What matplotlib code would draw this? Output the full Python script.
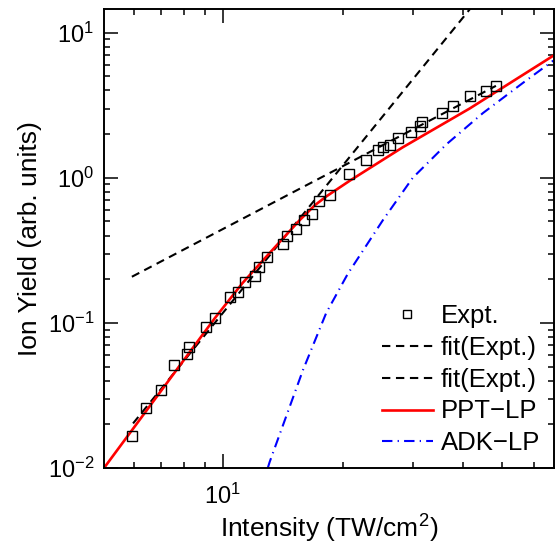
import numpy as np
import matplotlib.pyplot as plt
from matplotlib.ticker import LogLocator, NullFormatter, LogFormatterMathtext

plt.rcParams['font.family'] = ['Liberation Sans', 'DejaVu Sans']
plt.rcParams['mathtext.fontset'] = 'custom'
plt.rcParams['mathtext.rm'] = 'Liberation Sans'
plt.rcParams['mathtext.it'] = 'Liberation Sans:italic'

# ---------------------------------------------------------
# Data
# ---------------------------------------------------------
# experimental points (intensity in TW/cm^2, ion yield)
expt_x = [5.92, 6.44, 6.99, 7.55, 8.14, 8.24, 9.10, 9.57, 10.45, 10.92,
          11.39, 12.07, 12.33, 12.91, 14.16, 14.49, 15.22, 15.96, 16.75,
          17.40, 18.51, 20.70, 22.87, 24.50, 25.20, 26.20, 27.40, 29.60,
          31.10, 31.50, 35.30, 37.80, 41.50, 45.60, 48.30]
expt_y = [0.0166, 0.026, 0.0344, 0.0515, 0.0614, 0.0682, 0.093, 0.1076,
          0.151, 0.164, 0.191, 0.209, 0.242, 0.284, 0.352, 0.394, 0.443,
          0.515, 0.562, 0.697, 0.767, 1.066, 1.33, 1.55, 1.63, 1.69, 1.87,
          2.07, 2.28, 2.41, 2.81, 3.10, 3.68, 3.98, 4.31]

# power-law fits (straight lines in log-log), end points
fit1_x = [5.96, 45.0]
fit1_y = [0.0203, 19.0]
fit2_x = [5.92, 48.3]
fit2_y = [0.208, 4.30]

# PPT-LP theory
ppt_x = [5.04, 9.55, 11.2, 12.85, 15.57, 17.0, 18.15, 20.8, 28.2, 41.5, 67.2]
ppt_y = [0.0100, 0.1078, 0.188, 0.286, 0.51, 0.647, 0.743, 0.955, 1.62, 3.0, 6.93]

# ADK-LP theory
adk_x = [12.96, 13.1, 15.88, 18.15, 20.56, 25.2, 29.9, 36.3, 44.8, 56.4, 67.2]
adk_y = [0.0100, 0.0110, 0.0474, 0.117, 0.218, 0.513, 1.0, 1.70, 2.79, 4.5, 6.41]

# ---------------------------------------------------------
# Plot
# ---------------------------------------------------------
fig = plt.figure(figsize=(5.59, 5.5), dpi=100)
ax = fig.add_axes([0.186, 0.149, 0.805, 0.835])

ax.plot(expt_x, expt_y, 's', ms=6.5, mfc='none', mec='black', mew=1.0,
        label='Expt.', zorder=5)
ax.plot(fit1_x, fit1_y, color='black', lw=1.5, dashes=(4, 2.7), label='fit(Expt.)')
ax.plot(fit2_x, fit2_y, color='black', lw=1.5, dashes=(4, 2.7), label='fit(Expt.)')
ax.plot(ppt_x, ppt_y, color='red', lw=1.9, label='PPT\u2212LP')
ax.plot(adk_x, adk_y, color='blue', lw=1.5, dashes=(5, 2.5, 0.6, 2.5), label='ADK\u2212LP')

ax.set_xscale('log')
ax.set_yscale('log')
ax.set_xlim(5.04, 67.5)
ax.set_ylim(0.01, 14.6)

ax.xaxis.set_major_locator(LogLocator(base=10))
ax.xaxis.set_minor_locator(LogLocator(base=10, subs=np.arange(2, 10)))
ax.xaxis.set_minor_formatter(NullFormatter())
ax.yaxis.set_minor_locator(LogLocator(base=10, subs=np.arange(2, 10)))
ax.yaxis.set_minor_formatter(NullFormatter())
ax.xaxis.set_major_formatter(LogFormatterMathtext())
ax.yaxis.set_major_formatter(LogFormatterMathtext())

ax.tick_params(which='both', direction='in', top=True, right=True, width=1.1)
ax.tick_params(which='major', length=10, labelsize=17)
ax.tick_params(axis='x', which='major', pad=11)
ax.tick_params(axis='y', which='major', pad=7)
ax.tick_params(which='minor', length=4.5)
for s in ax.spines.values():
    s.set_linewidth(1.4)

ax.set_xlabel('Intensity (TW/cm$^2$)', fontsize=19)
ax.set_ylabel('Ion Yield (arb. units)', fontsize=19)
ax.xaxis.set_label_coords(0.5, -0.098)
ax.yaxis.set_label_coords(-0.138, 0.5)

ax.legend(loc='lower right', bbox_to_anchor=(0.998, 0.0), frameon=False,
          fontsize=18.5, handlelength=2.0, handletextpad=0.3,
          labelspacing=0.3, borderaxespad=0.1, markerscale=0.8)

plt.savefig('out.png', dpi=100)
